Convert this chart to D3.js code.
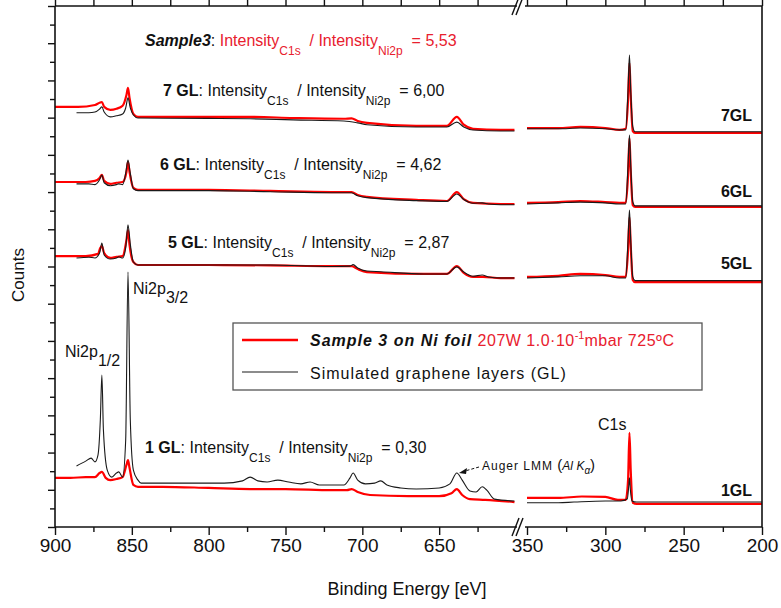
<!DOCTYPE html>
<html>
<head>
<meta charset="utf-8">
<script src="https://cdn.jsdelivr.net/npm/d3@7"></script>
<style>
  body { margin: 0; background: #fff; }
  text { font-family: "Liberation Sans", Arial, sans-serif; }
</style>
</head>
<body>
<div id="chart"></div>
<script>
// Size constants
var totWidth = 781,
    totHeight = 608;
var plot = {left: 55, right: 762, top: 6, bottom: 527};
var gapLeft = 516, gapRight = 527;

// Tick values
var leftMajor = [900, 850, 800, 750, 700, 650],
    leftMinor = [875, 825, 775, 725, 675, 625],
    rightMajor = [350, 300, 250, 200],
    rightMinor = [325, 275, 225];

// Spectra: [binding energy (eV), counts (a.u.)], left part 900-600 eV
var red1L = [[900,1.32],[890,1.32],[880,1.34],[874,1.34],[871,1.45],[869.5,1.48],[867,1.32],[864,1.26],[860,1.29],[856,1.34],
  [853.5,1.67],[852.5,1.80],[851.5,1.59],[849,1.13],[846,1.08],[830,1.08],[800,1.05],[773,1.02],[750,1.02],[720,0.99],
  [710,0.99],[707,1.02],[703,0.94],[695,0.86],[670,0.83],[650,0.83],[642,0.91],[638.5,1.02],[635,0.86],[630,0.75],[620,0.73],[601,0.67]];
var black1L = [[886,1.64],[880,1.77],[876.5,1.85],[874,1.75],[872,1.94],[870.5,2.88],[869.5,4.08],[868.5,2.61],[866,1.53],[863,1.34],
  [860,1.45],[858.5,1.48],[856,1.34],[854,2.34],[852.5,6.85],[851,2.88],[849,1.53],[846,1.26],[844,1.18],[820,1.18],[790,1.18],
  [778,1.24],[773,1.34],[768,1.24],[762,1.21],[755,1.26],[748,1.21],[740,1.16],[734,1.21],[728,1.13],[712,1.13],[708,1.32],
  [706,1.45],[703,1.26],[698,1.16],[692,1.18],[688,1.24],[684,1.13],[675,1.05],[665,1.02],[650,1.05],[643,1.16],[638.5,1.45],
  [635,1.26],[630,0.97],[626,0.94],[622,1.08],[619,0.99],[614,0.75],[601,0.70]];
var red5L = [[900,7.28],[880,7.28],[872,7.34],[870.5,7.50],[869.5,7.55],[868,7.36],[864,7.23],[860,7.26],[856,7.28],[853.5,7.71],
  [852.5,7.98],[851.5,7.58],[849,7.12],[846,7.04],[800,7.04],[760,7.03],[720,7.01],[707,7.01],[703,6.93],[697,6.85],[660,6.80],
  [645,6.80],[638.5,7.01],[634,6.83],[628,6.72],[621.5,6.72],[610,6.69],[601,6.69]];
var black5L = [[886,7.23],[878,7.25],[874,7.23],[871,7.36],[869.5,7.63],[868,7.31],[864,7.20],[860,7.23],[858.5,7.26],[856,7.23],
  [854,7.50],[852.5,8.12],[851,7.60],[849,7.12],[846,7.04],[800,7.04],[760,7.04],[720,7.00],[708,7.01],[706,7.05],[703,6.96],
  [697,6.88],[688,6.86],[660,6.80],[645,6.80],[638.5,6.99],[634,6.85],[628,6.74],[622,6.77],[618,6.72],[610,6.69],[601,6.69]];
var red6L = [[900,9.27],[880,9.27],[874,9.30],[871,9.38],[869.5,9.46],[868,9.30],[864,9.22],[860,9.25],[856,9.27],[853.5,9.54],
  [852.5,9.81],[851.5,9.54],[849,9.11],[846,9.06],[800,9.06],[760,9.03],[720,9.00],[707,9.00],[703,8.92],[697,8.87],[665,8.79],
  [645,8.76],[638.5,9.00],[634,8.81],[628,8.71],[610,8.68],[601,8.68]];
var black6L = [[886,9.22],[878,9.22],[874,9.20],[871,9.33],[869.5,9.46],[868,9.25],[864,9.17],[860,9.20],[858.5,9.22],[856,9.20],
  [854,9.50],[852.5,9.86],[851,9.50],[849,9.09],[846,9.04],[800,9.04],[760,9.01],[720,8.98],[707,8.98],[703,8.90],[697,8.85],
  [665,8.77],[645,8.75],[638.5,8.95],[634,8.80],[628,8.70],[622,8.71],[618,8.68],[610,8.66],[601,8.66]];
var red7L = [[900,11.29],[885,11.29],[874,11.34],[871,11.40],[869.5,11.42],[868,11.29],[864,11.21],[860,11.24],[856,11.32],
  [853.5,11.61],[852.5,11.80],[851.5,11.53],[849,11.10],[846,11.02],[800,11.02],[773,11.02],[745,10.99],[712,10.97],[707,10.98],
  [703,10.91],[697,10.86],[665,10.78],[645,10.78],[638.5,11.02],[634,10.81],[628,10.70],[610,10.67],[601,10.67]];
var black7L = [[886,11.13],[878,11.13],[874,11.15],[871,11.23],[869.5,11.29],[868,11.15],[864,11.02],[860,11.05],[856,11.10],
  [854,11.26],[852.5,11.53],[851,11.26],[849,11.07],[846,10.99],[800,10.98],[773,10.97],[745,10.94],[712,10.91],[703,10.86],
  [697,10.81],[665,10.75],[645,10.75],[638.5,10.88],[634,10.75],[628,10.67],[610,10.64],[601,10.64]];

// right part 350-200 eV (C1s)
var red1R = [[350,0.78],[330,0.78],[315,0.82],[300,0.81],[292,0.73],[287,0.73],[285.5,1.26],[284.6,2.53],[283.8,1.53],[282.5,0.65],[280,0.62],[200,0.62]];
var black1R = [[350,0.65],[330,0.65],[320,0.67],[300,0.70],[290,0.70],[286,0.75],[285,1.13],[284.6,1.32],[284,0.99],[283,0.70],[280,0.67],[200,0.67]];
var red5R = [[350,6.72],[330,6.75],[316,6.80],[300,6.77],[291,6.72],[287,6.72],[285.5,7.44],[284.6,8.33],[283.8,7.58],[282.5,6.64],[281,6.58],[200,6.58]];
var black5R = [[350,6.69],[330,6.72],[316,6.75],[300,6.75],[291,6.69],[287,6.69],[285.5,7.71],[284.6,8.52],[283.8,7.71],[282.5,6.72],[281,6.62],[200,6.62]];
var red6R = [[350,8.71],[330,8.73],[316,8.76],[300,8.73],[291,8.71],[287,8.71],[285.5,9.46],[284.6,10.45],[283.8,9.59],[282.5,8.65],[281,8.60],[200,8.60]];
var black6R = [[350,8.68],[330,8.71],[316,8.73],[300,8.71],[291,8.68],[287,8.68],[285.5,9.73],[284.6,10.53],[283.8,9.73],[282.5,8.74],[281,8.63],[200,8.63]];
var red7R = [[350,10.72],[330,10.72],[316,10.75],[300,10.72],[291,10.67],[287,10.70],[285.5,11.48],[284.6,12.47],[283.8,11.61],[282.5,10.64],[281,10.59],[200,10.59]];
var black7R = [[350,10.70],[330,10.70],[316,10.72],[300,10.70],[291,10.67],[287,10.67],[285.5,11.74],[284.6,12.68],[283.8,11.74],[282.5,10.76],[281,10.62],[200,10.62]];

// Labels
var layerLabels = ["7 GL", "6 GL", "5 GL", "1 GL"],
    layerRatios = ["6,00", "4,62", "2,87", "0,30"],
    sideLabels = ["7GL", "6GL", "5GL", "1GL"],
    sampleRatio = "5,53";

var redLine = "#ff0000", redText = "#e8202e", blackLine = "#1a1a1a";

var svg = d3.select("#chart")
  .append("svg")
    .attr("width", totWidth)
    .attr("height", totHeight)
    .style("background", "#fff");

// Scales (broken x axis)
var xL = d3.scaleLinear().domain([900, 600]).range([plot.left, gapLeft]);
var xR = d3.scaleLinear().domain([350, 200]).range([gapRight, plot.right]);
var y = d3.scaleLinear().domain([0, 14]).range([plot.bottom, plot.top]);

// Bottom axis ticks + labels
function bottomAxis(scale, major, minor) {
  svg.append("g")
    .attr("transform", "translate(0," + plot.bottom + ")")
    .call(d3.axisBottom(scale).tickValues(major).tickSize(8).tickPadding(4).tickFormat(d3.format("d")))
    .call(function(g) { g.select(".domain").remove() })
    .selectAll("text").style("font-size", "19px").attr("fill", "#111");
  svg.append("g")
    .attr("transform", "translate(0," + plot.bottom + ")")
    .call(d3.axisBottom(scale).tickValues(minor).tickSize(5).tickFormat(""))
    .select(".domain").remove();
  // mirrored top ticks, pointing in
  svg.append("g")
    .attr("transform", "translate(0," + plot.top + ")")
    .call(d3.axisBottom(scale).tickValues(major.concat(minor)).tickSize(-6).tickFormat(""))
    .select(".domain").remove();
}
bottomAxis(xL, leftMajor, leftMinor);
bottomAxis(xR, rightMajor, rightMinor);
svg.selectAll(".tick line").attr("stroke", "#111").attr("stroke-width", 1.4);

// Left axis ticks (no labels)
svg.append("g")
  .attr("transform", "translate(" + plot.left + ",0)")
  .call(d3.axisLeft(y).tickValues(d3.range(0, 14.01, 1)).tickSize(7).tickFormat(""))
  .call(function(g) { g.select(".domain").remove() })
  .selectAll("line").attr("stroke", "#111").attr("stroke-width", 1.4);
svg.append("g")
  .attr("transform", "translate(" + plot.left + ",0)")
  .call(d3.axisLeft(y).tickValues(d3.range(0.5, 14, 1)).tickSize(5).tickFormat(""))
  .call(function(g) { g.select(".domain").remove() })
  .selectAll("line").attr("stroke", "#111").attr("stroke-width", 1.4);

// Curves
svg.append("clipPath").attr("id", "clipPlot")
  .append("rect").attr("x", plot.left).attr("y", plot.top)
  .attr("width", plot.right - plot.left).attr("height", plot.bottom - plot.top);
var curves = svg.append("g").attr("clip-path", "url(#clipPlot)");

function drawCurve(data, xs, color, w) {
  var line = d3.line()
    .x(function(d) { return xs(d[0]); })
    .y(function(d) { return y(d[1]); })
    .curve(d3.curveMonotoneX);
  var sorted = data.slice().sort(function(a, b) { return b[0] - a[0]; });
  curves.append("path")
    .attr("d", line(sorted))
    .attr("fill", "none")
    .attr("stroke", color)
    .attr("stroke-width", w)
    .attr("stroke-linejoin", "round");
}
[red1L, red5L, red6L, red7L].forEach(function(d) { drawCurve(d, xL, redLine, 2.2); });
[red1R, red5R, red6R, red7R].forEach(function(d) { drawCurve(d, xR, redLine, 2.2); });
[black1L, black5L, black6L, black7L].forEach(function(d) { drawCurve(d, xL, blackLine, 1.1); });
[black1R, black5R, black6R, black7R].forEach(function(d) { drawCurve(d, xR, blackLine, 1.1); });

// Frame with axis break
var frame = svg.append("g").attr("stroke", "#111").attr("stroke-width", 1.6).attr("fill", "none");
frame.append("line").attr("x1", plot.left).attr("x2", plot.left).attr("y1", plot.top).attr("y2", plot.bottom);
frame.append("line").attr("x1", plot.right).attr("x2", plot.right).attr("y1", plot.top).attr("y2", plot.bottom);
[plot.top, plot.bottom].forEach(function(yy) {
  frame.append("line").attr("x1", plot.left).attr("x2", gapLeft + 1).attr("y1", yy).attr("y2", yy);
  frame.append("line").attr("x1", gapRight - 2).attr("x2", plot.right).attr("y1", yy).attr("y2", yy);
  // break marks
  [gapLeft - 1, gapRight - 8].forEach(function(bx) {
    frame.append("line")
      .attr("x1", bx - 3).attr("y1", yy + 9)
      .attr("x2", bx + 4).attr("y2", yy - 9)
      .attr("stroke-width", 1.4);
  });
});

// Rich text helper
function richText(x, yy, parts, size, anchor) {
  var t = svg.append("text")
    .attr("x", x).attr("y", yy)
    .attr("text-anchor", anchor || "start")
    .style("font-size", size + "px")
    .style("white-space", "pre")
    .attr("fill", "#111");
  var shift = 0;
  parts.forEach(function(p) {
    var s = t.append("tspan").text(p.t);
    var target = p.dy || 0;
    if (target !== shift) s.attr("dy", target - shift);
    shift = target;
    if (p.size) s.style("font-size", p.size + "px");
    if (p.b) s.style("font-weight", "bold");
    if (p.i) s.style("font-style", "italic");
    if (p.c) s.attr("fill", p.c);
    if (p.ls) s.style("letter-spacing", p.ls + "px");
  });
  return t;
}

function ratioParts(label, value, color) {
  return [
    {t: label, b: true, i: label === "Sample3"},
    {t: ": "},
    {t: "Intensity", c: color},
    {t: "C1s", dy: 9, size: 12, c: color},
    {t: "  / Intensity", c: color},
    {t: "Ni2p", dy: 9, size: 12, c: color},
    {t: "  = " + value, c: color}
  ];
}

richText(145, 46, ratioParts("Sample3", sampleRatio, redText), 16);
var annPos = [[163, 96], [160, 170], [168, 248], [145, 453]];
layerLabels.forEach(function(l, i) {
  richText(annPos[i][0], annPos[i][1], ratioParts(l, layerRatios[i], "#111"), 16);
});

// Side labels
var sideY = [121, 197, 269, 496];
sideLabels.forEach(function(l, i) {
  svg.append("text").attr("x", 752).attr("y", sideY[i])
    .attr("text-anchor", "end")
    .style("font-size", "16px").style("font-weight", "bold")
    .attr("fill", "#111").text(l);
});

// Peak labels
richText(133, 294, [{t: "Ni2p"}, {t: "3/2", dy: 9}], 16);
richText(65, 357, [{t: "Ni2p"}, {t: "1/2", dy: 9}], 16);
richText(598, 430, [{t: "C1s"}], 16);

// Auger annotation
richText(482, 470, [
  {t: "Auger LMM ", ls: 1},
  {t: "(", size: 15},
  {t: "Al ", i: true},
  {t: "K", i: true},
  {t: "α", i: true, dy: 4, size: 10},
  {t: ")", size: 15, dy: 0}
], 12);
svg.append("line").attr("x1", 479).attr("y1", 467).attr("x2", 465).attr("y2", 471)
  .attr("stroke", "#111").attr("stroke-width", 1).attr("stroke-dasharray", "3,2");
svg.append("path").attr("d", "M459,473 L467,468 L466,474 Z").attr("fill", "#111");

// Legend
var legend = svg.append("g");
legend.append("rect").attr("x", 233).attr("y", 323).attr("width", 469).attr("height", 67)
  .attr("fill", "#fff").attr("stroke", "#555").attr("stroke-width", 1.3);
legend.append("line").attr("x1", 242).attr("x2", 298).attr("y1", 340).attr("y2", 340)
  .attr("stroke", redLine).attr("stroke-width", 2.5);
legend.append("line").attr("x1", 242).attr("x2", 298).attr("y1", 372).attr("y2", 372)
  .attr("stroke", blackLine).attr("stroke-width", 1.1);
richText(310, 346, [
  {t: "Sample 3 on Ni foil ", b: true, i: true, ls: 1},
  {t: "207W 1.0·10", c: redText, ls: 0.5},
  {t: "-1", c: redText, dy: -7, size: 11},
  {t: "mbar 725ºC", c: redText, ls: 0.5}
], 16);
richText(310, 379, [{t: "Simulated graphene layers (GL)", ls: 1}], 16);

// Axis titles
svg.append("text")
  .attr("x", 407).attr("y", 595)
  .attr("text-anchor", "middle")
  .style("font-size", "18px").attr("fill", "#111")
  .text("Binding Energy [eV]");
svg.append("text")
  .attr("transform", "translate(24,275) rotate(-90)")
  .attr("text-anchor", "middle")
  .style("font-size", "17px").attr("fill", "#111")
  .text("Counts");
</script>
</body>
</html>
